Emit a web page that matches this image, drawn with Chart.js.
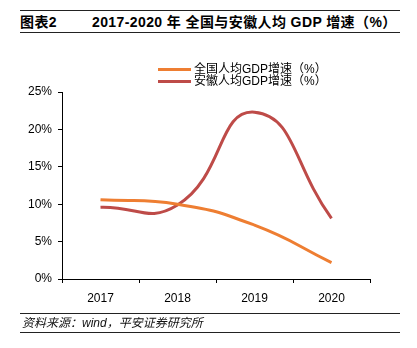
<!DOCTYPE html>
<html>
<head>
<meta charset="utf-8">
<script src="https://cdn.jsdelivr.net/npm/chart.js@4"></script>
<style>
  html, body { margin: 0; padding: 0; background: #fff; }
  #wrap { position: relative; width: 417px; height: 348px; overflow: hidden;
          font-family: "Liberation Sans", "Noto Sans CJK SC", sans-serif; color: #000; }
  #chart { position: absolute; left: 0; top: 0; }
  .rule { position: absolute; left: 20px; width: 380px; height: 0; border-top: 1.5px solid #222; }
  #title { position: absolute; left: 20px; top: 13px; font-size: 14px; font-weight: bold; line-height: 18px; letter-spacing: 0.4px; }
  #title span.num { display: inline-block; width: 72px; }
  #legend { position: absolute; left: 158px; top: 63px; font-size: 12px; line-height: 12px; }
  #legend div { display: flex; align-items: center; height: 12px; }
  #legend i { display: inline-block; width: 33px; height: 3px; margin-right: 3px; }
  #source { position: absolute; left: 22px; top: 316px; font-size: 12px; font-style: italic; line-height: 15px; color: #111; }
</style>
</head>
<body>
<div id="wrap">
  <div class="rule" style="top:10px"></div>
  <div id="title"><span class="num">图表2</span>2017-2020 年 全国与安徽人均 GDP 增速（%）</div>
  <div class="rule" style="top:32px"></div>
  <canvas id="chart" width="417" height="348"></canvas>
  <div id="legend"></div>
  <div class="rule" style="top:313px"></div>
  <div id="source">资料来源：wind，平安证券研究所</div>
  <div class="rule" style="top:332px"></div>
</div>
<script>
// ---- data ----
const years = ['2017', '2018', '2019', '2020'];
const nationalGrowth = [10.6, 10.0, 7.2, 2.2];
const anhuiGrowth = [9.6, 9.9, 22.3, 8.1];
const seriesNames = ['全国人均GDP增速（%）', '安徽人均GDP增速（%）'];
const seriesColors = ['#EE7E32', '#BE4B48'];
const yTicks = [0, 5, 10, 15, 20, 25];

// legend (HTML, stacked)
document.getElementById('legend').innerHTML = seriesNames
  .map((n, i) => `<div><i style="background:${seriesColors[i]}"></i>${n}</div>`).join('');

const tickFont = { family: "'Liberation Sans', Arial, sans-serif", size: 12 };

new Chart(document.getElementById('chart'), {
  type: 'line',
  data: {
    labels: years,
    datasets: [
      { label: seriesNames[0], data: nationalGrowth, borderColor: seriesColors[0],
        borderWidth: 3, pointRadius: 0, tension: 0.5, fill: false },
      { label: seriesNames[1], data: anhuiGrowth, borderColor: seriesColors[1],
        borderWidth: 3, pointRadius: 0, tension: 0.5, fill: false }
    ]
  },
  options: {
    responsive: false, animation: false,
    layout: { padding: { top: 92, right: 47, bottom: 39, left: 0 } },
    plugins: { legend: { display: false }, tooltip: { enabled: false } },
    scales: {
      x: {
        offset: true,
        grid: { offset: true, drawOnChartArea: false, drawTicks: true, tickLength: 4, color: '#000' },
        border: { color: '#000', width: 1 },
        ticks: { color: '#000', font: tickFont, padding: 8, maxRotation: 0 },
        afterFit: s => { s.height = 30; }
      },
      y: {
        min: 0, max: 25,
        afterBuildTicks: s => { s.ticks = yTicks.map(v => ({ value: v })); },
        grid: { drawOnChartArea: false, drawTicks: true, tickLength: 4, color: '#000' },
        border: { color: '#000', width: 1 },
        ticks: { color: '#000', font: tickFont, padding: 6, callback: v => v + '%' },
        afterFit: s => { s.width = 62; }
      }
    }
  }
});
</script>
</body>
</html>
